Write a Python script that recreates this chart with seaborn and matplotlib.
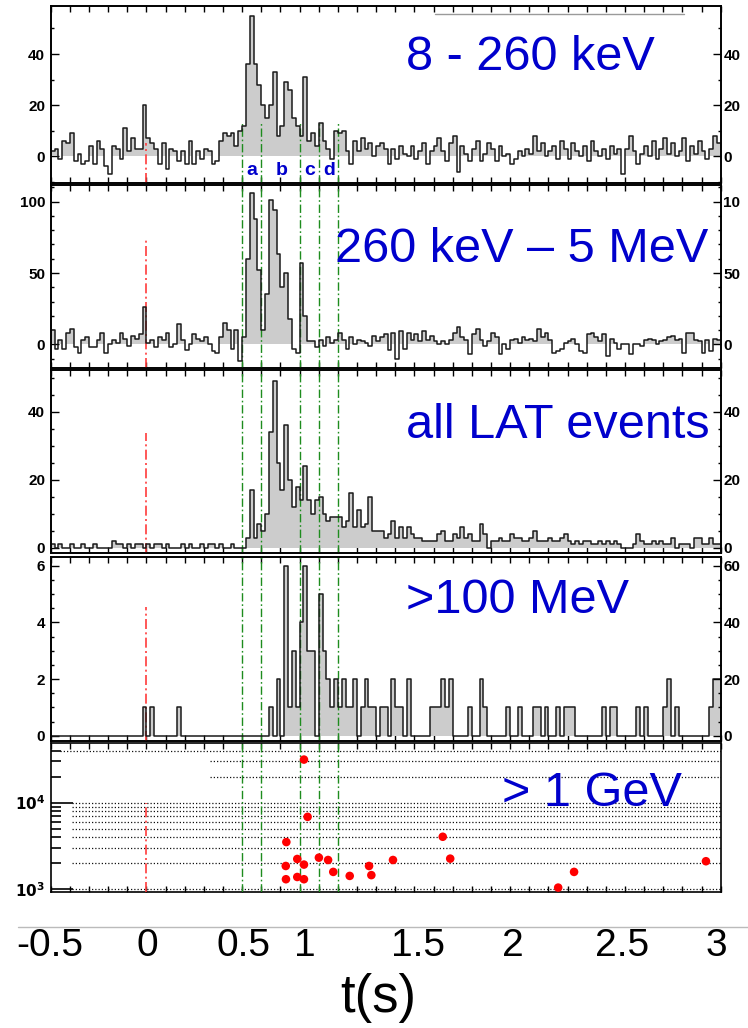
import numpy as np
import pandas as pd
import matplotlib
matplotlib.use('Agg')
import matplotlib.pyplot as plt
import seaborn as sns
from matplotlib.lines import Line2D
from matplotlib.ticker import MultipleLocator, FixedLocator, NullFormatter

# time axis (s) and bin width of the light curves
t_start, t_stop, bin_w = -0.5, 3.0, 0.02

# counts per bin, 25 bins per 0.5 s
nai_counts = [2, 3, -1, 6, 5, 9, -2, 1, -3, -2, 4, -3, 6, 3, -4, -7, 4, 3, -1, 11, 2, 7, 3, 3, 20,
              7, 5, 3, -3, 5, -5, 3, 2, -2, 2, -3, 6, -3, 2, -1, 3, 2, -3, -2, 6, 9, 8, 9, 4, 10,
              12, 36, 55, 36, 28, 20, 15, 20, 33, 8, 12, 29, 26, 15, 12, 8, 31, 6, 9, 4, 13, 6, 3, -1, 10,
              9, 10, 2, -3, 6, 2, 7, 3, 5, 0, 4, 5, 3, -3, 3, -1, 4, 1, 0, 4, -1, 2, 5, -3, 2,
              4, 7, 2, -2, 5, 8, -6, 4, 1, -2, 3, 6, -2, 1, 5, 3, -2, 4, 0, 1, -3, -1, 2, 0, 3,
              1, 8, 2, 5, 0, 2, 4, -1, 6, 3, -1, 5, 2, 0, 4, -2, 6, 2, 0, 3, -1, 4, 1, 3, -7,
              3, 8, 2, -3, 1, 4, 0, 6, -1, 3, 7, 1, 5, 0, 2, 7, -2, 4, 1, 6, 2, -1, 3, 8, 5]

bgo_counts = [10, -3, 3, -3, 8, 11, -2, -6, 3, 5, -2, -2, 3, 8, -6, 0, 3, 1, 8, 4, -1, 6, 4, 7, 26,
              1, 3, -2, 5, 3, 8, -2, 0, 14, 3, -4, 0, 7, 4, 2, 5, 0, -5, -6, 5, 15, 10, -3, 10, -12,
              5, 60, 106, 88, 52, 10, 35, 101, 94, 63, 40, 50, 18, -3, -6, 57, 20, 2, 2, -2, 3, -1, 5, 1, 3,
              8, 3, -3, 5, 0, 3, 2, 1, -1, 6, 2, 5, 7, -4, 8, -10, 9, -3, 8, 3, 7, 2, 9, 3, 6,
              2, 0, 2, 0, 3, 8, 12, 5, 3, -7, 7, 11, 3, -1, 2, 8, 5, -7, 0, -3, 3, 4, 1, 5, 3,
              4, 2, 11, 5, 8, 3, -6, -5, -3, 1, 2, 4, 0, -5, -6, 7, 8, 5, 2, 7, -8, 4, 1, -3, 0,
              0, -7, 0, 0, -1, 3, 4, 3, 0, 2, 3, 5, 6, 3, 4, -6, 8, 8, 3, 2, -6, 3, -5, 4, 3]

lat_counts = [1, 0, 1, 0, 0, 1, 0, 0, 1, 0, 0, 1, 0, 0, 0, 0, 2, 1, 1, 0, 1, 0, 1, 1, 0,
              1, 0, 1, 1, 0, 1, 0, 0, 0, 1, 0, 1, 0, 0, 1, 0, 1, 1, 0, 1, 0, 0, 1, 0, 0,
              0, 3, 17, 3, 7, 5, 10, 34, 49, 25, 17, 36, 20, 12, 18, 14, 24, 14, 10, 14, 15, 10, 8, 9, 9,
              9, 6, 8, 16, 6, 11, 6, 7, 15, 5, 5, 5, 3, 4, 8, 3, 6, 3, 6, 4, 3, 3, 2, 2, 2,
              2, 4, 5, 2, 2, 4, 3, 6, 3, 4, 2, 2, 7, 4, 0, 2, 2, 3, 2, 2, 4, 3, 3, 2, 2,
              3, 5, 2, 2, 2, 3, 2, 2, 3, 4, 2, 1, 2, 1, 2, 2, 1, 1, 2, 1, 2, 1, 2, 1, 0,
              0, 0, 1, 4, 2, 1, 1, 2, 1, 2, 1, 1, 3, 0, 1, 1, 1, 0, 3, 3, 1, 1, 3, 1, 1]

lat100_counts = [0, 0, 0, 0, 0, 0, 0, 0, 0, 0, 0, 0, 0, 0, 0, 0, 0, 0, 0, 0, 0, 0, 0, 0, 1,
                 0, 1, 0, 0, 0, 0, 0, 0, 1, 0, 0, 0, 0, 0, 0, 0, 0, 0, 0, 0, 0, 0, 0, 0, 0,
                 0, 0, 0, 0, 0, 0, 0, 1, 0, 2, 0, 6, 1, 3, 1, 4, 6, 3, 3, 0, 5, 3, 2, 1, 2,
                 1, 2, 1, 1, 2, 0, 1, 2, 1, 1, 0, 1, 1, 0, 2, 1, 1, 0, 2, 0, 0, 0, 0, 0, 1,
                 1, 1, 2, 1, 2, 0, 0, 0, 0, 1, 0, 0, 2, 1, 0, 0, 0, 0, 0, 1, 0, 0, 1, 0, 0,
                 0, 1, 1, 0, 1, 0, 0, 1, 0, 1, 1, 1, 0, 0, 0, 0, 0, 0, 0, 1, 0, 1, 1, 0, 0,
                 0, 0, 0, 1, 0, 1, 0, 0, 0, 0, 1, 2, 0, 1, 0, 0, 0, 0, 0, 0, 0, 0, 1, 2, 2]

# >1 GeV photons: arrival time (s) and energy (MeV)
gev_time = [0.823, 0.842, 0.731, 0.788, 0.728, 0.823, 0.901, 0.949, 0.976, 0.729, 0.788,
            0.823, 1.062, 1.163, 1.175, 1.288, 1.548, 1.587, 2.151, 2.234, 2.923]
gev_energy = [31500, 6850, 3500, 2230, 1850, 1920, 2310, 2170, 1580, 1300, 1380,
              1300, 1420, 1850, 1450, 2170, 4030, 2250, 1040, 1580, 2100]

panel_names = ['8 - 260 keV', '260 keV \u2013 5 MeV', 'all LAT events', '>100 MeV', '> 1 GeV']
interval_edges = [0.5, 0.6, 0.8, 0.9, 1.0]
interval_names = ['a', 'b', 'c', 'd']
interval_mid = [0.553, 0.708, 0.854, 0.955]
xtick_text = ['-0.5', '0', '0.5', '1', '1.5', '2', '2.5', '3']

sns.set_theme(style='ticks')
plt.rcParams['font.family'] = ['Liberation Sans', 'DejaVu Sans']
plt.rcParams['xtick.color'] = 'black'
plt.rcParams['ytick.color'] = 'black'
plt.rcParams['text.color'] = 'black'

W, H = 748, 1028
fig = plt.figure(figsize=(W / 100, H / 100), dpi=100)
x0, x1 = 50.7, 720.7
panel_px = [(6, 183), (185, 368), (370, 553), (557, 741), (743, 892)]
axes = [fig.add_axes([x0 / W, 1 - b / H, (x1 - x0) / W, (b - t) / H]) for t, b in panel_px]

n_bins = len(nai_counts)
centers = t_start + bin_w * (np.arange(n_bins) + 0.5)

red = '#ff3b3b'
green = '#1e8c1e'
blue = '#0000cc'
dashdot = (0, (6, 2, 1.2, 2))

ylims = [(-10.5, 58.8), (-16.6, 111.7), (-1.56, 52.3), (-0.18, 6.3)]
majors = [[0, 20, 40], [0, 50, 100], [0, 20, 40], [0, 2, 4, 6]]
minor_step = [10, 10, 5, 0.5]
left_labels = [['0', '20', '40'], ['0', '50', '100'], ['0', '20', '40'], ['0', '2', '4', '6']]
right_labels = [['0', '20', '40'], ['0', '50', '10'], ['0', '20', '40'], ['0', '20', '40', '60']]
red_top = [5, 74, 33.7, 4.55]
all_counts = [nai_counts, bgo_counts, lat_counts, lat100_counts]

for i, counts in enumerate(all_counts):
    ax = axes[i]
    df = pd.DataFrame({'t': centers, 'n': np.asarray(counts, float)})
    df['pos'] = df['n'].clip(lower=0)
    sns.histplot(data=df, x='t', weights='pos', binwidth=bin_w, binrange=(t_start, t_stop),
                 element='step', fill=True, color='#cccccc', alpha=1, linewidth=0, ax=ax, zorder=1)
    sns.histplot(data=df, x='t', weights='n', binwidth=bin_w, binrange=(t_start, t_stop),
                 element='step', fill=False, color='#1a1a1a', linewidth=1.1, ax=ax, zorder=4)
    ax.set_ylim(*ylims[i])
    lo = ylims[i][0]
    ax.vlines(0, lo, red_top[i], colors=red, linestyles=dashdot, lw=1.2, zorder=3)
    gtop = 13 if i == 0 else ylims[i][1]
    ax.vlines(interval_edges, lo, gtop, colors=green, linestyles=dashdot, lw=1.0, zorder=3)
    ax.set_yticks(majors[i])
    ax.set_yticklabels(left_labels[i], fontweight='bold', fontsize=11)
    ax.yaxis.set_minor_locator(MultipleLocator(minor_step[i]))
    tw = ax.twinx()
    tw.set_ylim(*ylims[i])
    tw.set_yticks(majors[i])
    tw.set_yticklabels(right_labels[i], fontweight='bold', fontsize=11)
    tw.yaxis.set_minor_locator(MultipleLocator(minor_step[i]))
    tw.tick_params(axis='y', which='major', direction='in', length=6, width=1, pad=2)
    tw.tick_params(axis='y', which='minor', direction='in', length=2.5, width=1)
    for s in tw.spines.values():
        s.set_linewidth(1.2)
        s.set_color('black')

# >1 GeV panel
ax5 = axes[4]
ax5.set_yscale('log')
ax5.set_ylim(925, 4.9e4)
grid_vals = [1e3, 2e3, 3e3, 4e3, 5e3, 6e3, 7e3, 8e3, 9e3, 1e4, 2e4, 3e4, 4e4]
grid_from = [-0.39] * 10 + [0.33, 0.33, -0.45]
for v, g in zip(grid_vals, grid_from):
    ax5.hlines(v, g, t_stop, colors='#111111', linestyles=(0, (1, 1.6)), lw=0.9, zorder=1)
ax5.vlines(0, 925, 1e4, colors=red, linestyles=dashdot, lw=1.2, zorder=3)
ax5.vlines(interval_edges, 925, 4.9e4, colors=green, linestyles=dashdot, lw=1.0, zorder=3)
sns.scatterplot(x=gev_time, y=gev_energy, color='#ff0000', s=38, edgecolor='none', ax=ax5, zorder=5)
ax5.yaxis.set_major_locator(FixedLocator([1e3, 1e4]))
ax5.set_yticklabels([r'$\mathbf{10^{3}}$', r'$\mathbf{10^{4}}$'], fontsize=11)
ax5.yaxis.set_minor_locator(FixedLocator([2e3, 3e3, 4e3, 5e3, 6e3, 7e3, 8e3, 9e3, 2e4, 3e4, 4e4]))
ax5.yaxis.set_minor_formatter(NullFormatter())
ax5.tick_params(axis='y', which='major', direction='in', length=16, width=1.2, pad=4)
ax5.tick_params(axis='y', which='minor', direction='in', length=7, width=1.2)

for i, ax in enumerate(axes):
    ax.set_xlim(t_start, t_stop)
    ax.set_xlabel('')
    ax.set_ylabel('')
    ax.xaxis.set_major_locator(MultipleLocator(0.1))
    ax.tick_params(axis='x', which='major', direction='in', length=4, width=1,
                   top=True, bottom=True, labelbottom=False)
    if i < 4:
        ax.tick_params(axis='y', which='major', direction='in', length=6, width=1, pad=4,
                       right=False)
        ax.tick_params(axis='y', which='minor', direction='in', length=2.5, width=1,
                       right=False)
    for s in ax.spines.values():
        s.set_visible(True)
        s.set_linewidth(1.2)
        s.set_color('black')

# interval letters in the top panel
for name, tm in zip(interval_names, interval_mid):
    axes[0].text(tm, -5.5, name, color=blue, fontsize=14, fontweight='bold',
                 ha='center', va='center', zorder=6)

# energy band labels
label_pos = [(406, 70), (335, 262), (406, 438), (406, 613), (502, 806)]
for name, (px, py) in zip(panel_names, label_pos):
    fig.text(px / W, 1 - py / H, name, color=blue, fontsize=35, ha='left', va='baseline')

# time axis labels drawn under the stack
xtick_px = [50, 147, 243, 305, 418, 513, 622, 716]
for lab, px in zip(xtick_text, xtick_px):
    fig.text(px / W, 1 - 946 / H, lab, fontsize=28, ha='center', va='center',
             family=['Liberation Sans Narrow', 'Liberation Sans', 'DejaVu Sans'])
fig.text(378 / W, 1 - 998 / H, 't(s)', fontsize=38, ha='center', va='center',
         family=['Liberation Sans Narrow', 'Liberation Sans', 'DejaVu Sans'])

fig.add_artist(Line2D([18 / W, 1.0], [1 - 927 / H, 1 - 927 / H], color='#bbbbbb', lw=1))
fig.add_artist(Line2D([435 / W, 684 / W], [1 - 14 / H, 1 - 14 / H], color='#9a9a9a', lw=1))

fig.savefig('out.png', dpi=100)
